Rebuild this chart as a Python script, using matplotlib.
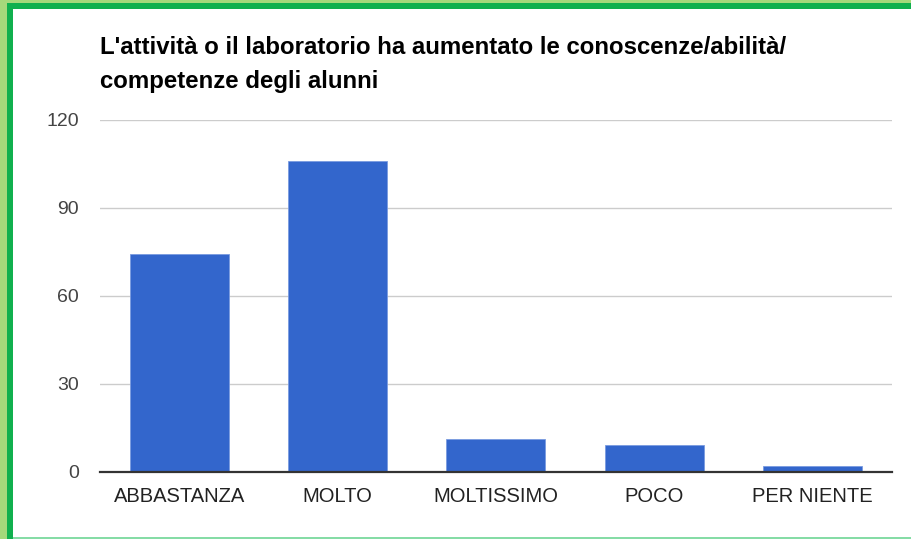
import matplotlib
matplotlib.use("Agg")
import matplotlib.pyplot as plt
from matplotlib.patches import Rectangle

categories = ["ABBASTANZA", "MOLTO", "MOLTISSIMO", "POCO", "PER NIENTE"]
values = [74, 106, 11, 9, 2]
yticks = [0, 30, 60, 90, 120]
title = "L'attività o il laboratorio ha aumentato le conoscenze/abilità/\ncompetenze degli alunni"

W, H = 912, 539
fig = plt.figure(figsize=(W / 100, H / 100), dpi=100, facecolor="white")

def rect(x0, y0, x1, y1, color):
    fig.patches.append(Rectangle((x0 / W, 1 - y1 / H), (x1 - x0) / W, (y1 - y0) / H,
                                 transform=fig.transFigure, color=color, zorder=0, lw=0))

LIGHT = "#a5d97b"
DARK = "#10b04e"
rect(0, 0, 7, H, LIGHT)
rect(0, 0, W, 3, LIGHT)
rect(7, 3, 13, H, DARK)
rect(7, 3, W, 9, DARK)
rect(13, 537, W, H, "#86dca6")

FONT = ["Liberation Sans", "DejaVu Sans"]

ax = fig.add_axes([100 / W, 67.5 / H, 792 / W, 352 / H])
x = range(len(categories))
ax.bar(x, values, width=0.625, color="#3366cc", edgecolor="#7a9be0", linewidth=0.6, zorder=3)
ax.set_xlim(-0.5, len(categories) - 0.5)
ax.set_ylim(0, 120)
ax.set_yticks(yticks)
ax.set_yticklabels([str(t) for t in yticks], fontfamily=FONT, fontsize=14, color="#444444")
ax.set_xticks(list(x))
ax.set_xticklabels(categories, fontfamily=FONT, fontsize=14.5, color="#222222")
ax.tick_params(axis="y", length=0, pad=15)
ax.tick_params(axis="x", length=0, pad=11)
for s in ["top", "right", "left"]:
    ax.spines[s].set_visible(False)
ax.spines["bottom"].set_color("#333333")
ax.spines["bottom"].set_linewidth(1.6)
ax.spines["bottom"].set_zorder(4)
ax.grid(axis="y", color="#cccccc", linewidth=1, zorder=0)
ax.set_axisbelow(True)

fig.text(100 / W, 1 - 36 / H, title, fontfamily=FONT, fontweight="bold", fontsize=17.3,
         color="#000000", ha="left", va="top", linespacing=1.6)

fig.savefig("out.png", dpi=100, facecolor="white")
